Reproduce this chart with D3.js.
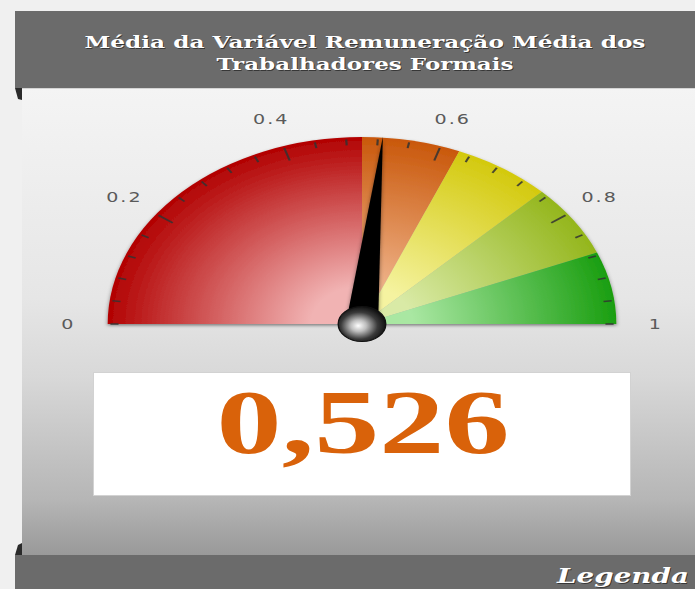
<!DOCTYPE html>
<html>
<head>
<meta charset="utf-8">
<script src="https://cdn.jsdelivr.net/npm/d3@7/dist/d3.min.js"></script>
<style>
  html, body { margin: 0; padding: 0; background: #f0f0f0; }
  svg { display: block; }
</style>
</head>
<body>
<div id="chart"></div>
<script>
// Gauge data
const titleLines = ['Média da Variável Remuneração Média dos', 'Trabalhadores Formais'];
const gaugeValue = 0.526;
const valueLabel = '0,526';
const bandStops = [0, 0.5, 0.625, 0.75, 0.875, 1];
const bandOuter = ['#b20202', '#c9580b', '#d3c90d', '#94b61c', '#1a9e10'];
const bandInner = ['#f1b3b3', '#efb38a', '#f5f3a0', '#d9eaa6', '#a9e7a2'];
const tickLabelValues = [0, 0.2, 0.4, 0.6, 0.8, 1];
const tickLabels = ['0', '0.2', '0.4', '0.6', '0.8', '1'];
const minorStep = 0.04;
const legendLabel = 'Legenda';

const W = 695, H = 589;
const cx = 362, cy = 324;
const R = 187;          // gauge radius (before horizontal stretch)
const SX = 1.36;        // horizontal stretch of the original picture

const svg = d3.select('#chart').append('svg')
    .attr('width', W)
    .attr('height', H);

const defs = svg.append('defs');

// panel background gradient
const panelGrad = defs.append('linearGradient')
    .attr('id', 'panelGrad')
    .attr('x1', 0).attr('y1', 0).attr('x2', 0).attr('y2', 1);
[[0, '#f4f4f4'], [0.45, '#e6e6e6'], [0.62, '#d8d8d8'], [0.88, '#b6b6b6'], [1, '#999999']]
    .forEach(([o, c]) => panelGrad.append('stop').attr('offset', o).attr('stop-color', c));

// band gradients (lighter towards the hub)
bandOuter.forEach((c, i) => {
    const g = defs.append('radialGradient')
        .attr('id', `band${i}`)
        .attr('gradientUnits', 'userSpaceOnUse')
        .attr('cx', 0).attr('cy', 0).attr('r', R);
    g.append('stop').attr('offset', 0).attr('stop-color', bandInner[i]);
    g.append('stop').attr('offset', 0.2).attr('stop-color', bandInner[i]);
    g.append('stop').attr('offset', 1).attr('stop-color', c);
});

// hub gradient
const hubGrad = defs.append('radialGradient')
    .attr('id', 'hubGrad')
    .attr('cx', 0.45).attr('cy', 0.55).attr('r', 0.55)
    .attr('fx', 0.42).attr('fy', 0.55);
[[0, '#ffffff'], [0.3, '#bdbdbd'], [0.7, '#3a3a3a'], [1, '#111111']]
    .forEach(([o, c]) => hubGrad.append('stop').attr('offset', o).attr('stop-color', c));

const shadow = defs.append('filter')
    .attr('id', 'shadow')
    .attr('x', '-10%').attr('y', '-10%').attr('width', '120%').attr('height', '125%');
shadow.append('feDropShadow')
    .attr('dx', 0).attr('dy', 1.5).attr('stdDeviation', 1.5)
    .attr('flood-color', '#000').attr('flood-opacity', 0.45);

// page frame
svg.append('rect')
    .attr('x', 22).attr('y', 88).attr('width', W - 22).attr('height', 467)
    .attr('fill', 'url(#panelGrad)');
svg.append('line')
    .attr('x1', 22).attr('x2', W).attr('y1', 88.5).attr('y2', 88.5)
    .attr('stroke', '#d4d4d4');
svg.append('rect')
    .attr('x', 15).attr('y', 11).attr('width', W - 15).attr('height', 77)
    .attr('fill', '#6b6b6b');
svg.append('rect')
    .attr('x', 15).attr('y', 555).attr('width', W - 15).attr('height', H - 555)
    .attr('fill', '#6b6b6b');
// small dark corners on the left edge
svg.append('path').attr('d', 'M15,88 L22,88 L22,100 L18,99 Z').attr('fill', '#2a2a2a');
svg.append('path').attr('d', 'M15,555 L22,555 L22,543 L18,545 Z').attr('fill', '#2a2a2a');

// helper: stretch text horizontally to a given width
function fitWidth(sel, x, y, width, anchor) {
    const w = sel.node().getComputedTextLength();
    const s = width / w;
    sel.attr('x', 0).attr('y', 0)
        .attr('transform', `translate(${x},${y}) scale(${s},1)`)
        .attr('text-anchor', anchor || 'middle');
}

// title
const titleY = [48, 70];
const titleW = [561, 297];
titleLines.forEach((t, i) => {
    [['#222', 1], ['#ffffff', 0]].forEach(([col, off]) => {
        const tx = svg.append('text')
            .style('font-family', '"DejaVu Serif", serif')
            .style('font-weight', 'bold')
            .style('font-size', '16px')
            .attr('fill', col)
            .attr('opacity', off ? 0.7 : 1)
            .text(t);
        fitWidth(tx, 365 + off, titleY[i] + off, titleW[i]);
    });
});

// legend bar label
[['#222', 1], ['#ffffff', 0]].forEach(([col, off]) => {
    const lg = svg.append('text')
        .style('font-family', '"DejaVu Serif", serif')
        .style('font-weight', 'bold')
        .style('font-style', 'italic')
        .style('font-size', '21px')
        .attr('fill', col)
        .attr('opacity', off ? 0.7 : 1)
        .text(legendLabel);
    fitWidth(lg, 557 + off, 583 + off, 132, 'start');
});

// scales
const angle = d3.scaleLinear().domain([0, 1]).range([-Math.PI / 2, Math.PI / 2]);

// gauge group (stretched horizontally like the original)
const gauge = svg.append('g')
    .attr('transform', `translate(${cx},${cy}) scale(${SX},1)`);

const arc = d3.arc().innerRadius(0).outerRadius(R);
const bands = d3.range(bandOuter.length).map(i => ({ from: bandStops[i], to: bandStops[i + 1], i }));

gauge.append('g')
    .attr('filter', 'url(#shadow)')
    .selectAll('path')
    .data(bands)
    .join('path')
    .attr('d', d => arc({ startAngle: angle(d.from), endAngle: angle(d.to) }))
    .attr('fill', d => `url(#band${d.i})`);

// ticks
const ticks = d3.range(0, 1 + 1e-9, minorStep);
gauge.append('g')
    .selectAll('line')
    .data(ticks)
    .join('line')
    .each(function (v) {
        const a = angle(v);
        const major = Math.abs(v * 5 - Math.round(v * 5)) < 1e-6 && v > 0 && v < 1;
        const len = major ? 13 : 6;
        const r0 = R - 2;
        d3.select(this)
            .attr('x1', r0 * Math.sin(a)).attr('y1', -r0 * Math.cos(a))
            .attr('x2', (r0 - len) * Math.sin(a)).attr('y2', -(r0 - len) * Math.cos(a));
    })
    .attr('stroke', '#333')
    .attr('stroke-opacity', 0.85)
    .attr('stroke-width', 1.6);

// tick labels
const rLabel = 216;
svg.append('g')
    .selectAll('text')
    .data(tickLabelValues)
    .join('text')
    .attr('transform', (v) => {
        const a = angle(v);
        return `translate(${cx + SX * rLabel * Math.sin(a)},${cy - rLabel * Math.cos(a)}) scale(${SX},1)`;
    })
    .attr('text-anchor', 'middle')
    .attr('dominant-baseline', 'central')
    .style('font-family', '"DejaVu Sans", sans-serif')
    .style('font-size', '14px')
    .style('letter-spacing', '1.5px')
    .attr('fill', '#5a5a5a')
    .text((v, i) => tickLabels[i]);

// needle
const na = angle(gaugeValue);
const needlePts = [[0, -(R + 1)], [12, 2], [-12, 2]].map(([x, y]) => [
    x * Math.cos(na) - y * Math.sin(na),
    x * Math.sin(na) + y * Math.cos(na)
]);
gauge.append('path')
    .attr('d', d3.line()(needlePts) + 'Z')
    .attr('fill', '#000')
    .attr('filter', 'url(#shadow)');

// hub
gauge.append('circle')
    .attr('r', 17.5)
    .attr('fill', 'url(#hubGrad)')
    .attr('stroke', '#111')
    .attr('stroke-width', 1);

// value box
svg.append('rect')
    .attr('x', 93.5).attr('y', 372.5).attr('width', 537).attr('height', 123)
    .attr('fill', '#ffffff')
    .attr('stroke', '#d2d2d2');

const vt = svg.append('text')
    .style('font-family', '"Liberation Serif", serif')
    .style('font-weight', 'bold')
    .style('font-size', '90px')
    .attr('fill', '#d9620a')
    .text(valueLabel);
fitWidth(vt, 363, 453, 293);
</script>
</body>
</html>
